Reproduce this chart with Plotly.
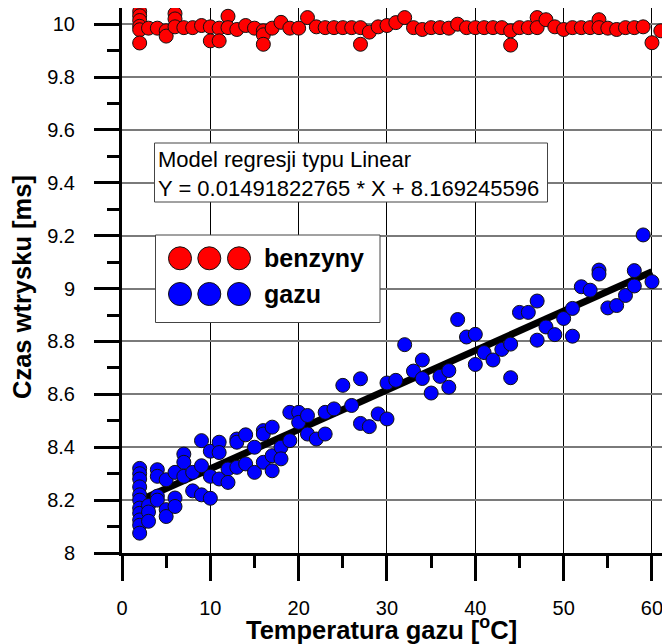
import plotly.graph_objects as go

FONT = "Liberation Sans, Arial, sans-serif"

# ---------------- data ----------------
gaz_x = [2, 2, 2, 2, 2, 2, 2, 2, 2, 2, 2,
         3, 3, 3, 4, 4, 4, 4, 5, 5, 5, 6, 6, 6, 7, 7, 7, 8, 8, 9, 9, 9,
         10, 10, 10, 11, 11, 11, 12, 12, 13, 13, 13, 14, 14, 15, 15,
         16, 16, 16, 17, 17, 17, 18, 18, 19, 19, 20, 20, 21, 21, 22, 23, 23,
         24, 25, 26, 27, 27, 28, 29, 30, 30, 31, 32, 33, 34, 34, 35, 36,
         37, 37, 38, 39, 40, 40, 41, 42, 43, 44, 44, 45, 46, 47, 47, 48,
         49, 50, 51, 51, 52, 53, 54, 54, 55, 56, 57, 58, 58, 59, 60]
gaz_y = [8.32, 8.30, 8.28, 8.25, 8.22, 8.20, 8.17, 8.15, 8.125, 8.105, 8.075,
         8.18, 8.155, 8.12, 8.315, 8.29, 8.215, 8.20, 8.277, 8.164, 8.138,
         8.305, 8.208, 8.176, 8.374, 8.343, 8.29, 8.305, 8.235, 8.425, 8.33, 8.22,
         8.385, 8.29, 8.207, 8.419, 8.38, 8.28, 8.318, 8.267, 8.431, 8.419, 8.324,
         8.447, 8.337, 8.40, 8.305, 8.463, 8.45, 8.343, 8.476, 8.368, 8.311,
         8.40, 8.356, 8.532, 8.425, 8.532, 8.494, 8.52, 8.45, 8.431, 8.532, 8.45,
         8.545, 8.634, 8.558, 8.659, 8.49, 8.478, 8.526, 8.643, 8.507, 8.653,
         8.788, 8.688, 8.73, 8.66, 8.605, 8.668, 8.69, 8.627, 8.883, 8.817,
         8.827, 8.713, 8.758, 8.73, 8.77, 8.79, 8.663, 8.91, 8.91, 8.953, 8.805,
         8.855, 8.826, 8.887, 8.925, 8.82, 9.007, 8.994, 9.07, 9.055, 8.927,
         8.936, 8.974, 9.068, 9.01, 9.203, 9.026]

benz_x = [2, 2, 2, 2, 2, 2, 3, 4, 5, 5, 6, 6, 6, 7, 8, 9, 10, 10, 11, 11,
          12, 12, 13, 14, 15, 16, 16, 16, 17, 18, 19, 20, 21, 22, 23, 24, 25,
          26, 27, 27, 28, 29, 30, 31, 32, 33, 34, 35, 36, 37, 38, 39, 40, 41,
          42, 43, 44, 44, 45, 46, 47, 47, 48, 49, 50, 51, 52, 53, 54, 54, 55,
          56, 57, 58, 59, 60, 61]
benz_y = [10.048, 10.032, 10.014, 9.992, 9.979, 9.929, 9.985, 9.985, 9.975, 9.955,
          10.04, 10.02, 9.99, 9.987, 9.987, 9.995, 9.99, 9.937, 9.985, 9.937,
          10.03, 9.987, 9.98, 9.995, 9.985, 9.975, 9.96, 9.924, 9.985, 10.007,
          9.985, 9.985, 10.025, 9.99, 9.987, 9.987, 9.987, 9.987, 9.987, 9.924,
          9.97, 9.99, 9.995, 10.006, 10.025, 9.987, 9.98, 9.987, 9.987, 9.985,
          10.0, 9.987, 9.987, 9.987, 9.987, 9.987, 9.975, 9.921, 9.987, 9.987,
          10.025, 9.987, 10.017, 9.99, 9.98, 9.987, 9.987, 9.987, 10.017, 9.987,
          9.985, 9.98, 9.987, 9.987, 9.99, 9.93, 9.975]

reg_slope = 0.01491822765
reg_intercept = 8.169245596
reg_x = [2, 60]

x_ticks = [0, 10, 20, 30, 40, 50, 60]
y_ticks = [8, 8.2, 8.4, 8.6, 8.8, 9, 9.2, 9.4, 9.6, 9.8, 10]
y_tick_labels = ["8", "8.2", "8.4", "8.6", "8.8", "9", "9.2", "9.4", "9.6", "9.8", "10"]

legend_labels = ["benzyny", "gazu"]
legend_colors = ["#FF0000", "#0000FF"]
box_lines = ["Model regresji typu Linear",
             "Y = 0.01491822765 * X + 8.169245596"]
x_title = "Temperatura gazu [<sup>o</sup>C]"
y_title = "Czas wtrysku [ms]"

# ---------------- layout geometry ----------------
# The page body adds an 8 px margin, so the figure is 8 px smaller and all
# reference pixel positions are shifted by OFF.
OFF = 8
W, H = 670 - OFF, 644 - OFF
ML, MR, MT, MB = 122 - OFF, 0, 0, 91
PW, PH = W - ML - MR, H - MT - MB
PX_PER_X = 8.833
PX_PER_Y = 264.4
X_MAX = PW / PX_PER_X
Y_MIN = 8
Y_MAX = Y_MIN + PH / PX_PER_Y


def px(x):
    return (x - OFF - ML) / PW


def py(y):
    return (H - MB - (y - OFF)) / PH


reg_y = [reg_slope * v + reg_intercept for v in reg_x]

fig = go.Figure()
fig.add_trace(go.Scatter(x=reg_x, y=reg_y, mode="lines",
                         line=dict(color="black", width=7), hoverinfo="skip"))
fig.add_trace(go.Scatter(x=gaz_x, y=gaz_y, mode="markers", name="gazu",
                         marker=dict(size=14, color="#0000FF",
                                     line=dict(color="#111111", width=1))))
fig.add_trace(go.Scatter(x=benz_x, y=benz_y, mode="markers", name="benzyny",
                         marker=dict(size=14, color="#FF0000",
                                     line=dict(color="#111111", width=1))))

shapes = []
annotations = []

# regression text box
shapes.append(dict(type="rect", xref="paper", yref="paper", layer="above",
                   x0=px(154.5), x1=px(547.5), y0=py(202), y1=py(143),
                   fillcolor="white", line=dict(color="#444444", width=1)))
annotations.append(dict(xref="paper", yref="paper", x=px(156), y=py(145),
                        xanchor="left", yanchor="top", align="left",
                        showarrow=False, text="<br>".join(box_lines),
                        font=dict(family=FONT, size=22, color="black")))

# legend box
shapes.append(dict(type="rect", xref="paper", yref="paper", layer="above",
                   x0=px(155.5), x1=px(380), y0=py(322.5), y1=py(235),
                   fillcolor="white", line=dict(color="#444444", width=1)))
row_y = [258.3, 294]
circ_x = [180, 209.3, 239]
for lab, col, ry in zip(legend_labels, legend_colors, row_y):
    for cx in circ_x:
        shapes.append(dict(type="circle", xref="paper", yref="paper", layer="above",
                           xsizemode="pixel", ysizemode="pixel",
                           xanchor=px(cx), yanchor=py(ry),
                           x0=-11.5, x1=11.5, y0=-11.5, y1=11.5,
                           fillcolor=col, line=dict(color="#111111", width=1)))
    annotations.append(dict(xref="paper", yref="paper", x=px(262), y=py(ry),
                            xanchor="left", yanchor="middle", showarrow=False,
                            text="<b>%s</b>" % lab,
                            font=dict(family=FONT, size=25, color="black")))

# axis titles
annotations.append(dict(xref="paper", yref="paper", x=px(381), y=py(645),
                        xanchor="center", yanchor="bottom", showarrow=False,
                        borderpad=0,
                        text="<b>%s</b>" % x_title,
                        font=dict(family=FONT, size=25.5, color="black")))
annotations.append(dict(xref="paper", yref="paper", x=px(22), y=py(287),
                        xanchor="center", yanchor="middle", showarrow=False,
                        textangle=-90, text="<b>%s</b>" % y_title,
                        font=dict(family=FONT, size=25.5, color="black")))

fig.update_layout(
    width=W, height=H,
    margin=dict(l=ML, r=MR, t=MT, b=MB, pad=0),
    paper_bgcolor="white", plot_bgcolor="white",
    showlegend=False,
    shapes=shapes, annotations=annotations,
    font=dict(family=FONT, size=20, color="black"),
)
fig.update_xaxes(
    range=[0, X_MAX], tickvals=x_ticks, ticks="outside", ticklen=25,
    tickwidth=3, tickcolor="black", showline=True, linecolor="black",
    linewidth=3, showgrid=True, gridcolor="black", gridwidth=1,
    zeroline=False, ticklabelstandoff=10,
    tickfont=dict(family=FONT, size=20, color="black"),
    minor=dict(dtick=5, tick0=0, ticks="outside", ticklen=12, tickwidth=3,
               tickcolor="black", showgrid=False),
)
fig.update_yaxes(
    range=[Y_MIN, Y_MAX], tickvals=y_ticks, ticktext=y_tick_labels,
    ticks="outside", ticklen=25, tickwidth=3, tickcolor="black",
    showline=True, linecolor="black", linewidth=3, showgrid=True,
    gridcolor="#7a7a7a", gridwidth=1.5, zeroline=False, ticklabelstandoff=15,
    tickfont=dict(family=FONT, size=20, color="black"),
    minor=dict(dtick=0.1, tick0=8, ticks="outside", ticklen=12, tickwidth=3,
               tickcolor="black", showgrid=False),
)

fig.write_html("out.html")
